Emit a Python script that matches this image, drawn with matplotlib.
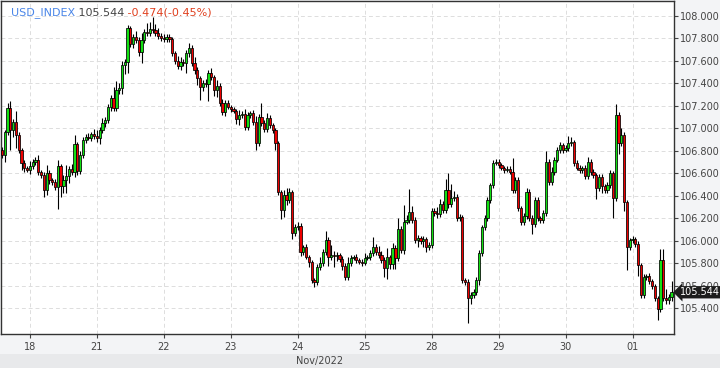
import matplotlib
matplotlib.use("Agg")
import matplotlib.pyplot as plt
import matplotlib.transforms as mtransforms
from matplotlib.patches import Rectangle
import numpy as np
import pandas as pd

symbol = "USD_INDEX"
prev_close = 106.018
first_open = 106.809
trading_days = ["2022-11-17", "2022-11-18", "2022-11-21", "2022-11-22", "2022-11-23",
                "2022-11-24", "2022-11-25", "2022-11-28", "2022-11-29", "2022-11-30",
                "2022-12-01"]
start_hour = 14

close = [
    106.764, 106.969, 107.182, 106.987, 107.058, 106.942, 106.809, 106.693, 106.649, 106.631,
    106.667, 106.702, 106.720, 106.613, 106.587, 106.453, 106.604, 106.542, 106.524, 106.480,
    106.667, 106.489, 106.542, 106.578, 106.640, 106.613, 106.862, 106.622, 106.764, 106.898,
    106.924, 106.916, 106.951, 106.933, 106.916, 106.987, 107.049, 107.075, 107.191, 107.271,
    107.182, 107.342, 107.360, 107.564, 107.591, 107.893, 107.751, 107.813, 107.787, 107.680,
    107.787, 107.858, 107.849, 107.884, 107.876, 107.849, 107.822, 107.804, 107.796, 107.813,
    107.796, 107.671, 107.600, 107.556, 107.591, 107.582, 107.671, 107.716, 107.582, 107.520,
    107.449, 107.369, 107.404, 107.396, 107.493, 107.458, 107.342, 107.378, 107.226, 107.147,
    107.226, 107.191, 107.173, 107.155, 107.084, 107.120, 107.129, 107.013, 107.120, 107.138,
    107.058, 106.871, 107.102, 107.049, 106.995, 107.093, 107.031, 106.987, 106.871, 106.435,
    106.275, 106.409, 106.364, 106.435, 106.071, 106.124, 106.133, 105.902, 105.946, 105.858,
    105.813, 105.653, 105.635, 105.769, 105.804, 105.902, 106.009, 105.858, 105.875, 105.866,
    105.875, 105.840, 105.778, 105.680, 105.804, 105.849, 105.858, 105.831, 105.813, 105.804,
    105.849, 105.858, 105.893, 105.946, 105.902, 105.875, 105.831, 105.760, 105.858, 105.795,
    105.938, 105.849, 106.106, 105.920, 106.169, 106.187, 106.258, 106.187, 106.009, 106.026,
    106.000, 106.017, 105.946, 105.964, 106.266, 106.249, 106.240, 106.329, 106.275, 106.453,
    106.329, 106.382, 106.391, 106.204, 106.213, 105.653, 105.635, 105.493, 105.520, 105.546,
    105.653, 105.893, 106.124, 106.204, 106.364, 106.498, 106.693, 106.702, 106.675, 106.649,
    106.631, 106.640, 106.613, 106.453, 106.542, 106.293, 106.169, 106.222, 106.435, 106.204,
    106.151, 106.364, 106.204, 106.187, 106.249, 106.702, 106.524, 106.613, 106.720, 106.809,
    106.853, 106.809, 106.827, 106.871, 106.880, 106.693, 106.649, 106.631, 106.649, 106.578,
    106.702, 106.613, 106.587, 106.471, 106.569, 106.489, 106.453, 106.498, 106.604, 106.382,
    107.120, 106.871, 106.942, 106.346, 105.946, 106.009, 106.017, 105.973, 105.787, 105.520,
    105.680, 105.689, 105.644, 105.600, 105.493, 105.395, 105.831, 105.493, 105.476, 105.502,
    105.544,
]

wick_up = [
    0.03, 0.02, 0.04, 0.06, 0.03, 0.10, 0.03, 0.02, 0.03, 0.02,
    0.04, 0.03, 0.03, 0.04, 0.02, 0.03, 0.07, 0.03, 0.02, 0.03,
    0.05, 0.02, 0.04, 0.10, 0.03, 0.04, 0.08, 0.02, 0.04, 0.03,
    0.03, 0.04, 0.02, 0.04, 0.05, 0.03, 0.04, 0.03, 0.03, 0.03,
    0.10, 0.08, 0.04, 0.04, 0.03, 0.03, 0.02, 0.03, 0.05, 0.03,
    0.06, 0.03, 0.08, 0.06, 0.11, 0.05, 0.04, 0.03, 0.04, 0.03,
    0.03, 0.02, 0.02, 0.04, 0.04, 0.03, 0.03, 0.04, 0.03, 0.05,
    0.03, 0.02, 0.03, 0.04, 0.03, 0.04, 0.02, 0.05, 0.03, 0.04,
    0.03, 0.03, 0.02, 0.02, 0.02, 0.04, 0.03, 0.04, 0.03, 0.02,
    0.03, 0.05, 0.03, 0.12, 0.03, 0.04, 0.03, 0.02, 0.02, 0.02,
    0.02, 0.04, 0.06, 0.04, 0.02, 0.03, 0.04, 0.03, 0.02, 0.03,
    0.02, 0.02, 0.02, 0.03, 0.05, 0.03, 0.08, 0.03, 0.09, 0.04,
    0.03, 0.02, 0.03, 0.03, 0.05, 0.03, 0.02, 0.03, 0.02, 0.03,
    0.04, 0.02, 0.03, 0.09, 0.03, 0.05, 0.04, 0.03, 0.08, 0.02,
    0.04, 0.03, 0.10, 0.03, 0.15, 0.04, 0.20, 0.05, 0.03, 0.03,
    0.02, 0.03, 0.02, 0.03, 0.03, 0.03, 0.05, 0.04, 0.03, 0.10,
    0.15, 0.12, 0.05, 0.03, 0.03, 0.02, 0.02, 0.03, 0.03, 0.03,
    0.03, 0.03, 0.02, 0.03, 0.03, 0.02, 0.03, 0.03, 0.03, 0.02,
    0.02, 0.03, 0.03, 0.12, 0.03, 0.03, 0.02, 0.03, 0.04, 0.03,
    0.03, 0.03, 0.03, 0.02, 0.03, 0.10, 0.03, 0.04, 0.03, 0.03,
    0.03, 0.02, 0.03, 0.06, 0.04, 0.02, 0.03, 0.03, 0.02, 0.03,
    0.04, 0.03, 0.03, 0.02, 0.03, 0.03, 0.02, 0.03, 0.03, 0.02,
    0.10, 0.03, 0.06, 0.03, 0.02, 0.02, 0.03, 0.02, 0.03, 0.02,
    0.03, 0.02, 0.03, 0.02, 0.02, 0.02, 0.10, 0.10, 0.08, 0.03,
    0.10,
]

wick_down = [
    0.03, 0.06, 0.03, 0.18, 0.06, 0.12, 0.03, 0.06, 0.04, 0.02,
    0.04, 0.03, 0.03, 0.03, 0.03, 0.06, 0.04, 0.04, 0.03, 0.03,
    0.20, 0.10, 0.06, 0.12, 0.06, 0.03, 0.04, 0.04, 0.03, 0.03,
    0.03, 0.02, 0.03, 0.03, 0.04, 0.05, 0.03, 0.04, 0.03, 0.04,
    0.03, 0.03, 0.04, 0.05, 0.08, 0.10, 0.03, 0.04, 0.03, 0.04,
    0.10, 0.03, 0.03, 0.03, 0.03, 0.03, 0.03, 0.03, 0.03, 0.03,
    0.03, 0.03, 0.03, 0.03, 0.04, 0.03, 0.09, 0.04, 0.03, 0.04,
    0.06, 0.12, 0.04, 0.03, 0.15, 0.03, 0.05, 0.06, 0.03, 0.03,
    0.04, 0.02, 0.03, 0.02, 0.04, 0.05, 0.03, 0.03, 0.03, 0.03,
    0.03, 0.06, 0.03, 0.03, 0.03, 0.03, 0.03, 0.03, 0.06, 0.03,
    0.08, 0.06, 0.04, 0.03, 0.05, 0.03, 0.03, 0.04, 0.03, 0.02,
    0.04, 0.03, 0.04, 0.03, 0.03, 0.03, 0.03, 0.08, 0.03, 0.10,
    0.04, 0.03, 0.04, 0.03, 0.03, 0.03, 0.02, 0.03, 0.02, 0.03,
    0.02, 0.02, 0.03, 0.03, 0.03, 0.03, 0.03, 0.08, 0.10, 0.04,
    0.04, 0.10, 0.03, 0.03, 0.04, 0.02, 0.03, 0.03, 0.03, 0.06,
    0.03, 0.05, 0.04, 0.03, 0.03, 0.03, 0.04, 0.03, 0.03, 0.03,
    0.04, 0.03, 0.03, 0.03, 0.03, 0.03, 0.03, 0.22, 0.05, 0.03,
    0.03, 0.04, 0.03, 0.03, 0.03, 0.03, 0.03, 0.02, 0.03, 0.02,
    0.03, 0.02, 0.02, 0.03, 0.03, 0.03, 0.03, 0.03, 0.03, 0.03,
    0.09, 0.03, 0.03, 0.03, 0.03, 0.03, 0.03, 0.03, 0.03, 0.02,
    0.03, 0.03, 0.02, 0.03, 0.03, 0.03, 0.02, 0.03, 0.03, 0.03,
    0.03, 0.03, 0.03, 0.10, 0.03, 0.06, 0.03, 0.03, 0.03, 0.18,
    0.03, 0.10, 0.03, 0.08, 0.20, 0.03, 0.03, 0.03, 0.10, 0.03,
    0.03, 0.03, 0.03, 0.03, 0.03, 0.10, 0.03, 0.03, 0.04, 0.04,
    0.04,
]

y_ticks = [105.4, 105.6, 105.8, 106.0, 106.2, 106.4, 106.6, 106.8, 107.0, 107.2,
           107.4, 107.6, 107.8, 108.0]

# ---- derived OHLC ----
close_a = np.array(close)
open_a = np.concatenate([[first_open], close_a[:-1]])
high_a = np.maximum(open_a, close_a) + np.array(wick_up)
low_a = np.minimum(open_a, close_a) - np.array(wick_down)

hours = pd.DatetimeIndex([pd.Timestamp(d) + pd.Timedelta(hours=h)
                          for d in trading_days for h in range(24)])
hours = hours[start_hour:start_hour + len(close)]
x = np.arange(len(close))
tick_idx = [i for i, t in enumerate(hours) if t.hour == 0]
tick_lbl = [f"{hours[i].day:02d}" for i in tick_idx]

# ---- figure ----
W, H = 720, 368
fig = plt.figure(figsize=(W / 100, H / 100), dpi=100, facecolor="#f3f4f6")
fig.patches.append(Rectangle((0, 0), 1, 14 / H, transform=fig.transFigure,
                             facecolor="#e8e9eb", edgecolor="none", zorder=0))
ax = fig.add_axes([1 / W, 34 / H, 673 / W, 333 / H])
ax.set_facecolor("white")

up = close_a >= open_a
colors = np.where(up, "#12e012", "#ee0000")
ax.vlines(x, low_a, high_a, color="black", linewidth=0.8, zorder=2)
ax.bar(x, np.abs(close_a - open_a), bottom=np.minimum(open_a, close_a), width=0.8,
       color=colors, edgecolor="black", linewidth=0.55, zorder=3)

ax.set_xlim(-0.36, 240.86)
ax.set_ylim(105.173, 108.133)

ax.set_xticks(tick_idx)
ax.set_xticklabels(tick_lbl)
ax.set_yticks(y_ticks)
ax.set_yticklabels([f"{v:.3f}" for v in y_ticks])
ax.yaxis.tick_right()
ax.tick_params(axis="both", labelsize=7, colors="#444444", length=3, width=0.8)
ax.tick_params(axis="y", pad=1.5)
ax.tick_params(axis="x", pad=3)
ax.grid(True, color="#dddddd", linestyle=(0, (4, 3)), linewidth=0.7, zorder=0)
ax.set_axisbelow(True)
for s in ax.spines.values():
    s.set_color("#333333")
    s.set_linewidth(1.0)

# title
last = close_a[-1]
chg = last - prev_close
pct = chg / prev_close * 100
t1 = ax.text(10 / 673, 1 - 14 / 333, symbol, transform=ax.transAxes, fontsize=8,
             color="#4a86e8", ha="left", va="baseline", zorder=5)
t2 = ax.annotate(f" {last:.3f}", xy=(1, 0), xycoords=t1, fontsize=8, color="#444444",
                 ha="left", va="bottom", zorder=5)
t3 = ax.annotate(f" {chg:.3f}({pct:.2f}%)", xy=(1, 0), xycoords=t2, fontsize=8,
                 color="#e0401f", ha="left", va="bottom", zorder=5)

# last price label
trans = mtransforms.blended_transform_factory(ax.transAxes, ax.transData)
ax.text(1.0085, last, f"{last:.3f}", transform=trans, fontsize=7, color="white",
        ha="left", va="center", zorder=10, clip_on=False,
        bbox=dict(boxstyle="larrow,pad=0.12", fc="#1c1c1c", ec="none"))

fig.text(320 / W, 1 - 361 / H, hours[tick_idx[0]].strftime("%b/%Y"), fontsize=7,
         color="#444444", ha="center", va="center")

fig.savefig("out.png", dpi=100, facecolor=fig.get_facecolor())
